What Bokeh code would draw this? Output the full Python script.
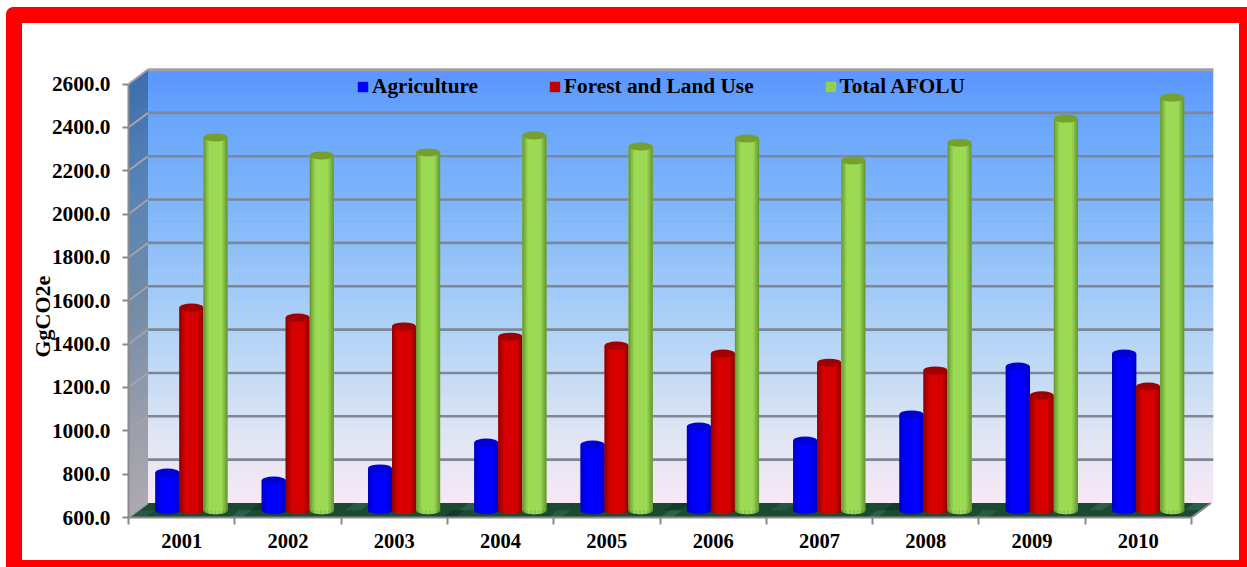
import numpy as np
from bokeh.embed import file_html
from bokeh.models import ColumnDataSource, FixedTicker, Title
from bokeh.plotting import figure
from bokeh.resources import INLINE

YEARS = ["2001", "2002", "2003", "2004", "2005", "2006", "2007", "2008", "2009", "2010"]
AGRICULTURE = [774, 737, 793, 912, 903, 986, 922, 1042, 1263, 1323]
FOREST_LAND_USE = [1535, 1489, 1448, 1401, 1360, 1323, 1281, 1245, 1130, 1171]
TOTAL_AFOLU = [2320, 2237, 2251, 2329, 2278, 2315, 2214, 2296, 2407, 2504]
VALUE_TICKS = [600, 800, 1000, 1200, 1400, 1600, 1800, 2000, 2200, 2400, 2600]

FONT = "Liberation Serif"
W, H = 1247, 567
FRAME_L, FRAME_R, FRAME_T, FRAME_B = 128, 1213, 68, 517
PX_PER_CAT = 106.3
PX_PER_UNIT = 0.21675
DEPTH_X = 19.5 / PX_PER_CAT      # horizontal run of the pseudo-3D depth, in category units
DEPTH_Y = 14.5 / PX_PER_UNIT     # vertical run of the depth, in value units
Y_MIN = 600
X_END = (FRAME_R - FRAME_L) / PX_PER_CAT
Y_END = Y_MIN + (FRAME_B - FRAME_T) / PX_PER_UNIT

# The canvas is transparent; the host element paints the red poster frame and white panel
POSTER_STYLES = {
    "background-color": "white",
    "background-repeat": "no-repeat",
    "background-image": "linear-gradient(white,white),"
                        "radial-gradient(circle at 7px 7px,#f00 6.5px,white 7.2px),"
                        "linear-gradient(#f00,#f00),linear-gradient(#f00,#f00)",
    "background-position": "22px 23px,6px 7px,13px 7px,6px 14px",
    "background-size": "1217px 537px,7px 7px,1234px 560px,1241px 553px",
}

p = figure(
    width=W, height=H, output_backend="svg", toolbar_location=None,
    x_range=(0, X_END), y_range=(Y_MIN, Y_END),
    min_border_left=FRAME_L, min_border_right=W - FRAME_R,
    min_border_top=FRAME_T, min_border_bottom=H - FRAME_B,
    border_fill_color=None, background_fill_color=None, outline_line_color=None,
    styles=POSTER_STYLES,
)
p.grid.visible = False


def mix(stops, t):
    """Piecewise-linear colour between (position, hex) stops."""
    pos = [s[0] for s in stops]
    rgb = [[int(s[1][i:i + 2], 16) for i in (1, 3, 5)] for s in stops]
    c = [np.interp(t, pos, [r[k] for r in rgb]) for k in range(3)]
    return "#%02x%02x%02x" % tuple(int(round(v)) for v in c)


# Back wall and side wall gradients, as thin bands running up the value scale
BACK_STOPS = [(0.0, "#f8e8f6"), (0.16, "#dfe5f3"), (0.38, "#b4d4f6"), (0.65, "#84b9f9"),
              (0.88, "#69a5fb"), (1.0, "#5a96fe")]
SIDE_STOPS = [(0.0, "#aca9b2"), (0.2, "#9a9eaa"), (0.5, "#6f8aa6"), (0.75, "#5683b6"), (1.0, "#3c6dab")]
edges = np.linspace(Y_MIN, Y_MIN + 2000, 91)
t_mid = (edges[:-1] + edges[1:] - 2 * Y_MIN) / 2 / 2000
p.quad(left=DEPTH_X, right=X_END, bottom=edges[:-1] + DEPTH_Y, top=edges[1:] + DEPTH_Y + 3,
       fill_color=[mix(BACK_STOPS, t) for t in t_mid], line_color=None)
p.patches(xs=[[0, DEPTH_X, DEPTH_X, 0] for _ in t_mid],
          ys=[[a, a + DEPTH_Y, b + DEPTH_Y + 3, b + 3] for a, b in zip(edges[:-1], edges[1:])],
          fill_color=[mix(SIDE_STOPS, t) for t in t_mid], line_color=None)

# Floor: dark green base, mottled in the gaps between the column groups
floor_x = [0, 10, 10 + DEPTH_X, DEPTH_X]
floor_y = [Y_MIN, Y_MIN, Y_MIN + DEPTH_Y, Y_MIN + DEPTH_Y]
p.patch(floor_x, floor_y, fill_color="#1a4a32", line_color=None)
MOTTLE = [(0.02, 0.14, 0.0, "#24593f"), (0.95, 0.12, 0.0, "#27604a"), (1.05, 0.1, 0.5, "#143c2a"),
          (1.95, 0.14, 0.5, "#265c42"), (2.95, 0.12, 0.0, "#133a28"), (3.02, 0.14, 0.5, "#285f45"),
          (3.95, 0.12, 0.0, "#265c42"), (4.95, 0.14, 0.5, "#143c2a"), (5.0, 0.12, 0.0, "#2a6248"),
          (5.95, 0.14, 0.5, "#25593f"), (6.95, 0.1, 0.0, "#27604a"), (7.02, 0.12, 0.5, "#133a28"),
          (7.95, 0.14, 0.0, "#265c42"), (8.95, 0.12, 0.5, "#285f45"), (9.72, 0.12, 0.0, "#143c2a"),
          (9.84, 0.14, 0.5, "#27604a")]
p.patches(
    xs=[[x + f * DEPTH_X, x + w + f * DEPTH_X, x + w + (f + 0.5) * DEPTH_X, x + (f + 0.5) * DEPTH_X]
        for x, w, f, _ in MOTTLE],
    ys=[[Y_MIN + f * DEPTH_Y, Y_MIN + f * DEPTH_Y, Y_MIN + (f + 0.5) * DEPTH_Y, Y_MIN + (f + 0.5) * DEPTH_Y]
        for x, w, f, _ in MOTTLE],
    fill_color=[m[3] for m in MOTTLE], line_color=None)
p.line([10, 10 + DEPTH_X], [Y_MIN, Y_MIN + DEPTH_Y], line_color="#8a8a8a", line_width=2)

# Value gridlines: on the back wall, and slanting across the side wall
grid_levels = VALUE_TICKS[1:]
p.segment(x0=DEPTH_X, x1=X_END, y0=[v + DEPTH_Y for v in grid_levels],
          y1=[v + DEPTH_Y for v in grid_levels], line_color="#7d8797", line_width=2.6)
p.segment(x0=0, x1=DEPTH_X, y0=VALUE_TICKS, y1=[v + DEPTH_Y for v in VALUE_TICKS],
          line_color="#a3a3a8", line_width=2)
p.line([DEPTH_X, X_END], [Y_MIN + 2000 + DEPTH_Y - 1] * 2, line_color="#a89c9c", line_width=3)

# Cylindrical columns, standing halfway into the depth of the floor
BAR_W = 24 / PX_PER_CAT
CAP_H_PX = 8
N_STRIPS = 18
SERIES = [
    ("Agriculture", AGRICULTURE, -BAR_W, "#0000ff", "#0000bb", "#0000ff", "#0000d2"),
    ("Forest and Land Use", FOREST_LAND_USE, 0.0, "#c00000", "#8a0000", "#d80000", "#a00000"),
    ("Total AFOLU", TOTAL_AFOLU, BAR_W, "#92d050", "#64932f", "#9ddb55", "#75a02d"),
]
strip_edges = np.linspace(-1, 1, N_STRIPS + 1)
strip_mid = (strip_edges[:-1] + strip_edges[1:]) / 2
centres = np.arange(len(YEARS)) + 0.5 + DEPTH_X / 2
base = Y_MIN + DEPTH_Y / 2

for name, values, shift, solid, edge, centre, cap in SERIES:
    xc = centres + shift
    tops = np.array(values) + DEPTH_Y / 2
    src = ColumnDataSource({"x": xc, "top": tops, "year": YEARS})
    p.vbar(x="x", top="top", bottom=base, width=BAR_W, source=src,
           fill_color=solid, line_color=None, legend_label=name)

    # Shaded vertical strips give the column its round look; their feet follow the base ellipse
    colours = [mix([(0, centre), (0.5, centre), (1, edge)], abs(t)) for t in strip_mid]
    lefts, rights, bottoms, strip_tops, fills = [], [], [], [], []
    for x0, top in zip(xc, tops):
        for a, b, t, c in zip(strip_edges[:-1], strip_edges[1:], strip_mid, colours):
            lefts.append(x0 + a * BAR_W / 2)
            rights.append(x0 + b * BAR_W / 2 + 0.002)
            strip_tops.append(top)
            bottoms.append(base - (CAP_H_PX / 2) * np.sqrt(1 - t * t) / PX_PER_UNIT)
            fills.append(c)
    p.quad(left=lefts, right=rights, bottom=bottoms, top=strip_tops,
           fill_color=fills, line_color=None)
    p.ellipse(x="x", y="top", source=src, width=24, height=CAP_H_PX,
              width_units="screen", height_units="screen", fill_color=cap, line_color=None)

# Axes
ax = p.xaxis[0]
ax.ticker = FixedTicker(ticks=[i + 0.5 for i in range(len(YEARS))],
                        minor_ticks=list(range(len(YEARS) + 1)))
ax.major_label_overrides = {i + 0.5: y for i, y in enumerate(YEARS)}
ax.bounds = (0, 10)
ax.axis_line_color = "#8a8a8a"
ax.axis_line_width = 2
ax.major_tick_line_color = None
ax.major_tick_out = 0
ax.major_tick_in = 0
ax.minor_tick_line_color = "#8a8a8a"
ax.minor_tick_line_width = 2
ax.minor_tick_out = 7
ax.minor_tick_in = 0
ax.major_label_standoff = 9
ax.major_label_text_font = FONT
ax.major_label_text_font_style = "bold"
ax.major_label_text_font_size = "20.5px"
ax.major_label_text_color = "black"

ay = p.yaxis[0]
ay.ticker = FixedTicker(ticks=VALUE_TICKS, minor_ticks=[])
ay.formatter.use_scientific = False
ay.major_label_overrides = {v: f"{v:.1f}" for v in VALUE_TICKS}
ay.bounds = (600, 2600)
ay.axis_line_color = "#8a8a8a"
ay.axis_line_width = 2
ay.major_tick_line_color = "#8a8a8a"
ay.major_tick_line_width = 2
ay.major_tick_out = 6
ay.major_tick_in = 0
ay.minor_tick_line_color = None
ay.major_label_standoff = 12
ay.major_label_text_font = FONT
ay.major_label_text_font_style = "bold"
ay.major_label_text_font_size = "21.3px"
ay.major_label_text_color = "black"

# The unit title sits in the left panel, overlapping the tick labels slightly
p.add_layout(Title(text="GgCO2e", align="left", offset=160, standoff=-12, text_font=FONT,
                   text_font_style="bold", text_font_size="22px", text_color="black"), "left")

leg = p.legend[0]
leg.orientation = "horizontal"
leg.location = (228, 418)
leg.spacing = 70
leg.padding = 0
leg.margin = 0
leg.glyph_width = 13
leg.glyph_height = 13
leg.label_standoff = 3
leg.background_fill_alpha = 0
leg.border_line_color = None
leg.label_text_font = FONT
leg.label_text_font_style = "bold"
leg.label_text_font_size = "21.3px"
leg.label_text_color = "black"

open("out.html", "w").write(file_html(p, INLINE))
